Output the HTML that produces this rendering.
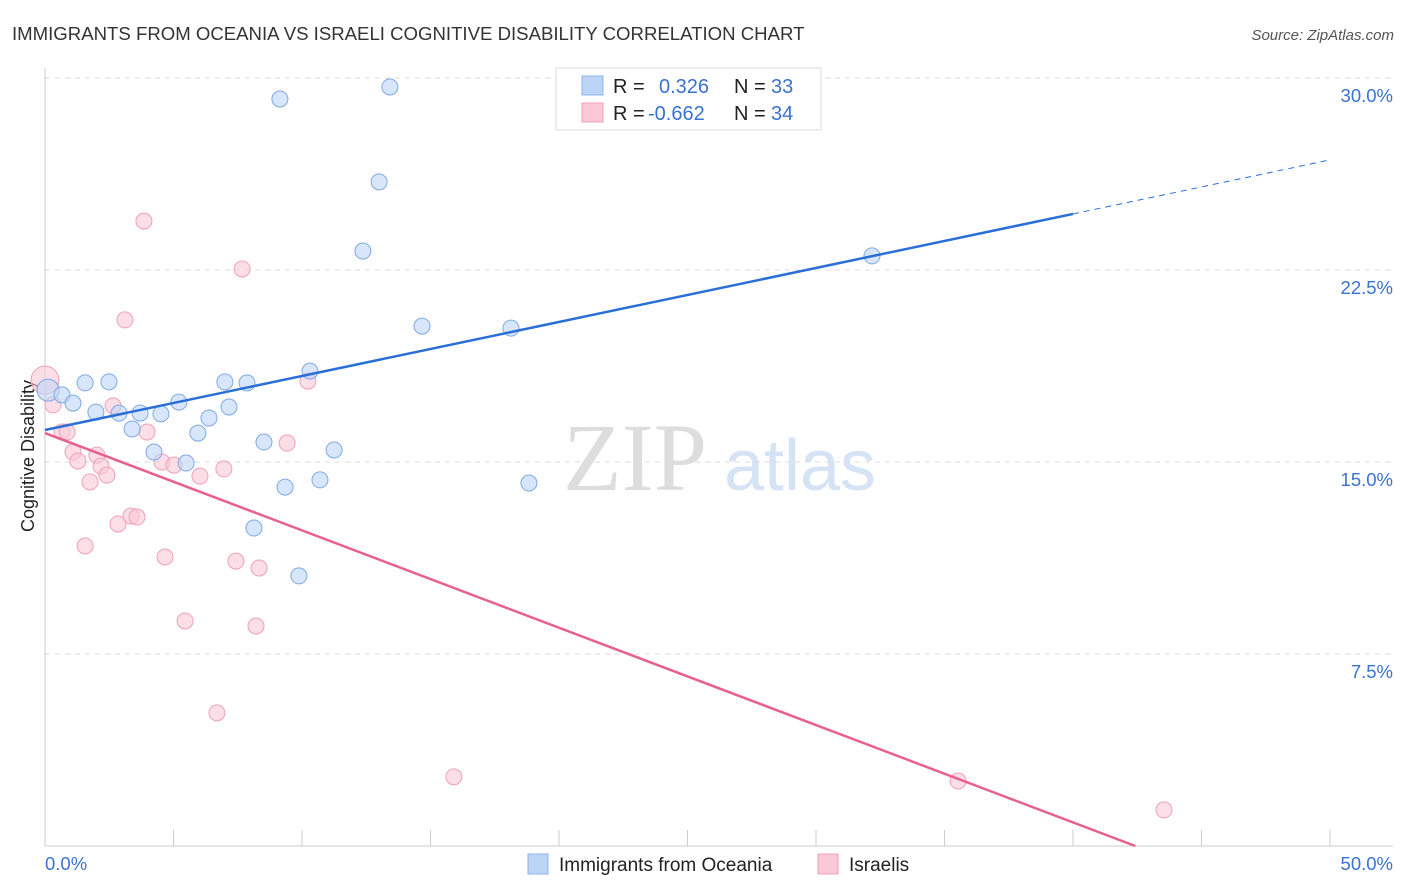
<!DOCTYPE html>
<html><head><meta charset="utf-8"><style>
body{margin:0;background:#fff;font-family:"Liberation Sans",sans-serif;}
svg{display:block}
</style></head><body>
<svg id="chart" width="1406" height="892">
<text x="12" y="40" font-size="18.6" fill="#333">IMMIGRANTS FROM OCEANIA VS ISRAELI COGNITIVE DISABILITY CORRELATION CHART</text>
<text x="1394" y="40" font-size="15" fill="#555" font-style="italic" text-anchor="end">Source: ZipAtlas.com</text>
<text x="0" y="0" transform="translate(34,456) rotate(-90)" font-size="18" fill="#222" text-anchor="middle">Cognitive Disability</text>
<g><text x="635" y="490" font-size="96" fill="#ddd" font-family="Liberation Serif,serif" text-anchor="middle">ZIP</text><text x="800" y="490" font-size="72" fill="#d5e3f5" text-anchor="middle">atlas</text></g>
<g id="grid"></g><g id="marks"></g>
<g>
<rect x="556" y="68" width="265" height="62" fill="#fff" stroke="#ddd"/>
<rect x="582" y="76" width="21" height="19" fill="#bcd5f7" stroke="#8ab4ee"/>
<rect x="582" y="103" width="21" height="19" fill="#fac8d6" stroke="#f0a0b8"/>
<text x="613" y="93" font-size="20" fill="#222">R =</text><text x="659" y="93" font-size="20" fill="#3a72d0">0.326</text>
<text x="734" y="93" font-size="20" fill="#222">N =</text><text x="771" y="93" font-size="20" fill="#3a72d0">33</text>
<text x="613" y="120" font-size="20" fill="#222">R =</text><text x="648" y="120" font-size="20" fill="#3a72d0">-0.662</text>
<text x="734" y="120" font-size="20" fill="#222">N =</text><text x="771" y="120" font-size="20" fill="#3a72d0">34</text>
</g>
<g>
<rect x="528" y="854" width="20" height="20" fill="#bcd5f7" stroke="#8ab4ee"/>
<text x="559" y="871" font-size="19" fill="#222">Immigrants from Oceania</text>
<rect x="818" y="854" width="20" height="20" fill="#fac8d6" stroke="#f0a0b8"/>
<text x="849" y="871" font-size="19" fill="#222">Israelis</text>
</g>
</svg>
<script>
const yTicks=[7.5,15,22.5,30];
const yTickLabels=["7.5%","15.0%","22.5%","30.0%"];
const xTickLabels=["0.0%","50.0%"];
const blueX=[0.12,0.66,1.09,1.56,1.98,2.49,2.88,3.39,3.70,4.24,4.51,5.21,5.49,5.95,6.38,7.00,7.16,7.86,8.13,8.52,9.14,9.34,9.88,10.31,10.70,11.25,12.37,13.00,13.42,14.67,18.13,18.83,32.18];
const blueY=[17.81,17.62,17.30,18.09,16.95,18.13,16.91,16.29,16.91,15.39,16.88,17.34,14.96,16.13,16.72,18.13,17.15,18.09,12.42,15.78,29.18,14.02,10.55,18.55,14.30,15.47,23.24,25.94,29.65,20.31,20.23,14.18,23.05];
const pinkX=[0,0.31,0.66,0.86,1.09,1.28,1.56,1.75,2.02,2.18,2.41,2.65,2.84,3.11,3.35,3.58,3.85,3.97,4.55,4.67,5.02,5.45,6.03,6.69,6.96,7.43,7.67,8.21,8.33,9.42,10.23,15.91,35.53,43.54];
const pinkY=[18.20,17.23,16.17,16.17,15.39,15.04,11.72,14.22,15.27,14.84,14.49,17.19,12.58,20.55,12.89,12.85,24.41,16.17,15.00,11.29,14.88,8.79,14.45,5.20,14.73,11.13,22.54,8.59,10.86,15.74,18.16,2.70,2.54,1.41];
const blueLine=[16.25,26.8];
const pinkLine=[16.13,-2.88];
const NS="http://www.w3.org/2000/svg";
const X=v=>45+v/50*1285, Y=v=>846-v/30*768;
function mk(t,a,p){const e=document.createElementNS(NS,t);for(const k in a)e.setAttribute(k,a[k]);p.appendChild(e);return e;}
const g=document.getElementById('grid'),m=document.getElementById('marks');
yTicks.forEach((t,i)=>{
 const l=mk('line',{x1:45,x2:1393,y1:Y(t),y2:Y(t),stroke:'#ddd','stroke-dasharray':'5,5'},g);
 
 
 const tx=mk('text',{x:1393,y:Y(t)+24,'font-size':18.5,fill:'#3a72d0','text-anchor':'end'},g);tx.textContent=yTickLabels[i];
 
 
});
mk('line',{x1:45,x2:45,y1:68,y2:846,stroke:'#ccc'},g);
mk('line',{x1:45,x2:1393,y1:846,y2:846,stroke:'#ccc'},g);
for(let i=1;i<=10;i++){const t=mk('line',{x1:X(i*5),x2:X(i*5),y1:830,y2:846,stroke:'#ccc'},g);
 
 }
[[0,45,'start'],[1,1393,'end']].forEach(([i,x,a])=>{const t=mk('text',{x:x,y:870,'font-size':18.5,fill:'#3a72d0','text-anchor':a},g);t.textContent=xTickLabels[i];
 
 });
function dots(xs,ys,fill,stroke,name){xs.forEach((x,i)=>{const r=i===0?(name==='pink-point'?14:11):8;
 const c=mk('circle',{cx:X(x),cy:Y(ys[i]),r:r,fill:fill,stroke:stroke,'stroke-width':1,'fill-opacity':0.6},m);
 
 });}
dots(pinkX,pinkY,'#fac8d6','#f0a0b8','pink-point');
dots(blueX,blueY,'#bcd5f7','#7fa9e6','blue-point');
const bs=(blueLine[1]-blueLine[0])/50;
const b1=mk('line',{x1:X(0),y1:Y(blueLine[0]),x2:X(40),y2:Y(blueLine[0]+bs*40),stroke:'#2a6fd6','stroke-width':2.5},m);


const b2=mk('line',{x1:X(40),y1:Y(blueLine[0]+bs*40),x2:X(50),y2:Y(blueLine[1]),stroke:'#2a6fd6','stroke-width':1,'stroke-dasharray':'6,5'},m);


const ps=(pinkLine[1]-pinkLine[0])/50, xe=-pinkLine[0]/ps;
const p1=mk('line',{x1:X(0),y1:Y(pinkLine[0]),x2:X(xe),y2:Y(0),stroke:'#e8608e','stroke-width':2.5},m);


</script>
</body></html>
